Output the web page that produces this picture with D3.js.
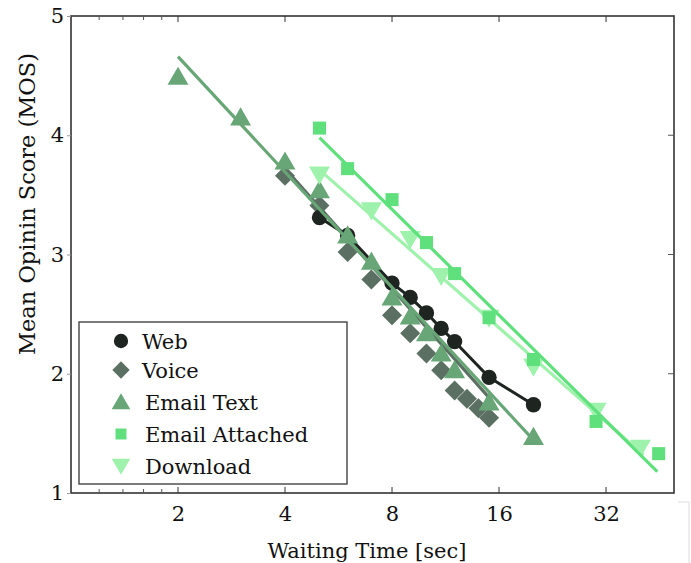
<!DOCTYPE html>
<html><head><meta charset="utf-8">
<script src="https://cdn.jsdelivr.net/npm/d3@7"></script>
<style>body{margin:0;background:#fff}svg{display:block}text{font-family:"DejaVu Serif",serif}</style>
</head><body><svg id="c" width="691" height="563"></svg>
<script>
// ---- data ----
const seriesNames = ["Web","Voice","Email Text","Email Attached","Download"];
const webX = [5,6,8,9,10,11,12,15,20];
const webY = [3.31,3.16,2.76,2.64,2.51,2.38,2.27,1.97,1.74];
const voiceX = [4,5,6,7,8,9,10,11,12,13,14,15];
const voiceY = [3.66,3.41,3.02,2.79,2.49,2.34,2.17,2.03,1.86,1.79,1.71,1.63];
const textX = [2,3,4,5,6,7,8,9,10,11,12,15,20];
const textY = [4.49,4.15,3.78,3.54,3.16,2.94,2.64,2.48,2.34,2.17,2.03,1.76,1.47];
const attachX = [5,6,8,10,12,15,20,30,45];
const attachY = [4.06,3.72,3.46,3.10,2.84,2.47,2.12,1.60,1.33];
const downX = [5,7,9,11,15,20,30,40];
const downY = [3.67,3.37,3.13,2.82,2.47,2.06,1.69,1.38];
// fitted lines [x0,y0,x1,y1]
const voiceFit = [4,3.72,15,1.80];
const textFit = [2,4.66,20.5,1.41];
const attachFit = [5,3.98,44.6,1.18];
const downFit = [5,3.71,40.8,1.32];
const xTicks = [2,4,8,16,32];
const xMinor = [1.2,1.4,1.6,1.8];
const yTicks = [1,2,3,4,5];

const colors = {"Web":"#1e2420","Voice":"#5b7062","Email Text":"#68a677","Email Attached":"#5fe07c","Download":"#9ef2ac"};

const svg = d3.select("#c");
const L=71,R=674,T=16,B=493;
const x = d3.scaleLog().base(2).domain([1,49.7]).range([L,R]);
const y = d3.scaleLinear().domain([1,5]).range([B,T]);
const FONT = "DejaVu Serif";

const g = svg.append("g");
// frame
g.append("rect").attr("x",L).attr("y",T).attr("width",R-L).attr("height",B-T)
 .attr("fill","none").attr("stroke","#333").attr("stroke-width",1.6);
// artifact box bottom right
svg.append("path").attr("d","M678,502H689V563").attr("fill","none").attr("stroke","#ddd").attr("stroke-width",1);

// x ticks
xTicks.forEach(v=>{
  g.append("line").attr("x1",x(v)).attr("x2",x(v)).attr("y1",B).attr("y2",B-6).attr("stroke","#333");
  g.append("line").attr("x1",x(v)).attr("x2",x(v)).attr("y1",T).attr("y2",T+6).attr("stroke","#333");
});
xMinor.forEach(v=>{
  g.append("line").attr("x1",x(v)).attr("x2",x(v)).attr("y1",B).attr("y2",B-4).attr("stroke","#555");
  g.append("line").attr("x1",x(v)).attr("x2",x(v)).attr("y1",T).attr("y2",T+4).attr("stroke","#555");
});
const xAxis = d3.axisBottom(x).tickValues(xTicks).tickFormat(d3.format("d")).tickSize(0).tickPadding(13);
const xa = svg.append("g").attr("transform",`translate(0,${B})`).call(xAxis);
xa.select(".domain").remove();
xa.selectAll("text").attr("font-size",21).attr("fill","#111").attr("font-family",FONT);

const yAxis = d3.axisLeft(y).tickValues(yTicks).tickFormat(d3.format("d")).tickSize(4).tickPadding(3);
const ya = svg.append("g").attr("transform",`translate(${L},0)`).call(yAxis);
ya.select(".domain").remove();
ya.selectAll("line").attr("stroke","#999");
ya.selectAll("text").attr("font-size",21).attr("fill","#111").attr("font-family",FONT);
[2,3,4].forEach(v=>{
  g.append("line").attr("x1",R).attr("x2",R-6).attr("y1",y(v)).attr("y2",y(v)).attr("stroke","#555");
});

// labels
svg.append("text").attr("x",367).attr("y",558).attr("text-anchor","middle").attr("font-size",21).attr("fill","#111").text("Waiting Time [sec]");
svg.append("text").attr("transform","translate(35,204) rotate(-90)").attr("text-anchor","middle").attr("font-size",22.5).attr("fill","#111").text("Mean Opinin Score (MOS)");

// symbols
const diamond = {draw(ctx,size){const r=Math.sqrt(size/2);ctx.moveTo(0,-r);ctx.lineTo(r,0);ctx.lineTo(0,r);ctx.lineTo(-r,0);ctx.closePath();}};
const sym = {
  "Web": d3.symbolCircle,
  "Voice": diamond,
  "Email Text": d3.symbolTriangle,
  "Email Attached": d3.symbolSquare,
  "Download": d3.symbolTriangle
};
function drawMarker(sel, name, cx, cy, size){
  const p = sel.append("path").attr("d", d3.symbol().type(sym[name]).size(size)())
    .attr("fill", colors[name]);
  let rot = name==="Download" ? 180 : 0;
  let dy = name==="Email Text" ? 2 : (name==="Download" ? -2 : 0);
  p.attr("transform",`translate(${cx},${cy+dy}) rotate(${rot})`);
}
const sizes = {"Web":185,"Voice":200,"Email Text":190,"Email Attached":170,"Download":190};

function fitLine(f, name){
  g.append("line").attr("x1",x(f[0])).attr("y1",y(f[1])).attr("x2",x(f[2])).attr("y2",y(f[3]))
   .attr("stroke",colors[name]).attr("stroke-width",3.2);
}
const line = d3.line().x(d=>x(d[0])).y(d=>y(d[1]));

// voice (back)
fitLine(voiceFit,"Voice");
voiceX.forEach((v,i)=>drawMarker(g,"Voice",x(v),y(voiceY[i]),sizes["Voice"]));
// web
g.append("path").attr("d",line(webX.map((v,i)=>[v,webY[i]]))).attr("fill","none").attr("stroke",colors["Web"]).attr("stroke-width",3);
webX.forEach((v,i)=>drawMarker(g,"Web",x(v),y(webY[i]),sizes["Web"]));
// email text
fitLine(textFit,"Email Text");
textX.forEach((v,i)=>drawMarker(g,"Email Text",x(v),y(textY[i]),sizes["Email Text"]));
// download
fitLine(downFit,"Download");
downX.forEach((v,i)=>drawMarker(g,"Download",x(v),y(downY[i]),sizes["Download"]));
// attached
fitLine(attachFit,"Email Attached");
attachX.forEach((v,i)=>drawMarker(g,"Email Attached",x(v),y(attachY[i]),sizes["Email Attached"]));

// legend
const lg = svg.append("g");
lg.append("rect").attr("x",79).attr("y",322).attr("width",268).attr("height",162).attr("fill","#fff").attr("stroke","#444").attr("stroke-width",1.4);
const rowsY = [341,370,402,434,466];
const legSizes = {"Web":160,"Voice":150,"Email Text":150,"Email Attached":120,"Download":150};
seriesNames.forEach((n,i)=>{
  drawMarker(lg,n,121,rowsY[i],legSizes[n]);
  lg.append("text").attr("x", i>=2 ? 145:142).attr("y",rowsY[i]+8).attr("font-size",21).attr("fill","#111").text(n);
});
</script></body></html>
